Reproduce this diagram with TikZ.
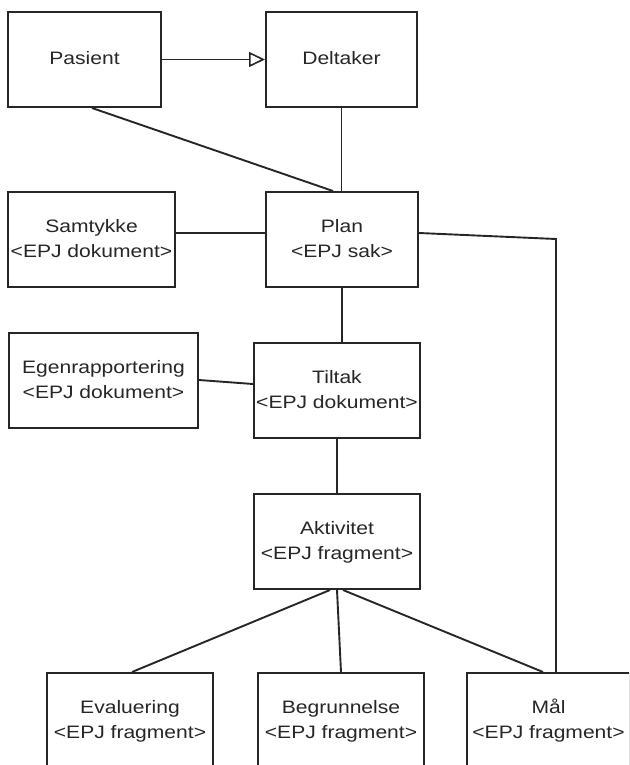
\documentclass[tikz,border=0pt]{standalone}
\usepackage{fontspec}
\setmainfont{Liberation Sans}
\usetikzlibrary{arrows.meta,calc}
\newcommand\boxtext[1]{\scalebox{1.17}[1]{\fontsize{18pt}{25pt}\selectfont\begin{tabular}{@{}c@{}}#1\end{tabular}}}
\begin{document}
\begin{tikzpicture}[x=1pt,y=-1pt,
  entity/.style={draw=black!85,line width=2pt,fill=white,rectangle,
    minimum height=95pt,inner sep=0pt,text=black!85},
  link/.style={draw=black!85,line width=1.9pt},
  generalize/.style={link,-{Triangle[open,length=16pt,width=15pt,line width=1.6pt]}}]
\useasboundingbox (0,0) rectangle (629,765);
\clip (0,0) rectangle (629,765);

% boxes
\node[entity,minimum width=153pt] (pasient)   at (84.5,59.5)  {\boxtext{Pasient}};
\node[entity,minimum width=151pt] (deltaker)  at (341.5,59.5) {\boxtext{Deltaker}};
\node[entity,minimum width=167pt] (samtykke)  at (91.5,239.5) {\boxtext{Samtykke\\<EPJ dokument>}};
\node[entity,minimum width=152pt] (plan)      at (342,239.5)  {\boxtext{Plan\\<EPJ sak>}};
\node[entity,minimum width=189pt] (egen)      at (103.5,380.5){\boxtext{Egenrapportering\\<EPJ dokument>}};
\node[entity,minimum width=166pt] (tiltak)    at (337,390.5)  {\boxtext{Tiltak\\<EPJ dokument>}};
\node[entity,minimum width=166pt] (aktivitet) at (337,541.5)  {\boxtext{Aktivitet\\<EPJ fragment>}};
\node[entity,minimum width=166pt] (evaluering) at (130,720.5) {\boxtext{Evaluering\\<EPJ fragment>}};
\node[entity,minimum width=166pt] (begrunnelse) at (341,720.5){\boxtext{Begrunnelse\\<EPJ fragment>}};
\node[entity,minimum width=163pt] (maal)      at (548.5,720.5){\boxtext{Mål\\<EPJ fragment>}};

% connectors
\draw[generalize] (pasient.east) -- (deltaker.west);
\draw[link] ([xshift=7.5pt]pasient.south) -- ([xshift=-9pt]plan.north);
\draw[link] (deltaker.south) -- (deltaker.south |- plan.north);
\draw[link] ([yshift=6.5pt]samtykke.east) -- ([yshift=6.5pt]plan.west);
\draw[link] (plan.south) -- (plan.south |- tiltak.north);
\draw[link] ([yshift=0.5pt]egen.east) -- ([yshift=6.5pt]tiltak.west);
\draw[link] (tiltak.south) -- (aktivitet.north);
\coordinate (bend) at (556,239);
\draw[link] ([yshift=6.5pt]plan.east) -- (bend) -- (bend |- maal.north);
\draw[link] ([xshift=-7pt]aktivitet.south) -- ([xshift=2pt]evaluering.north);
\draw[link] (aktivitet.south) -- (begrunnelse.north);
\draw[link] ([xshift=6pt]aktivitet.south) -- ([xshift=-5.5pt]maal.north);
\end{tikzpicture}
\end{document}
